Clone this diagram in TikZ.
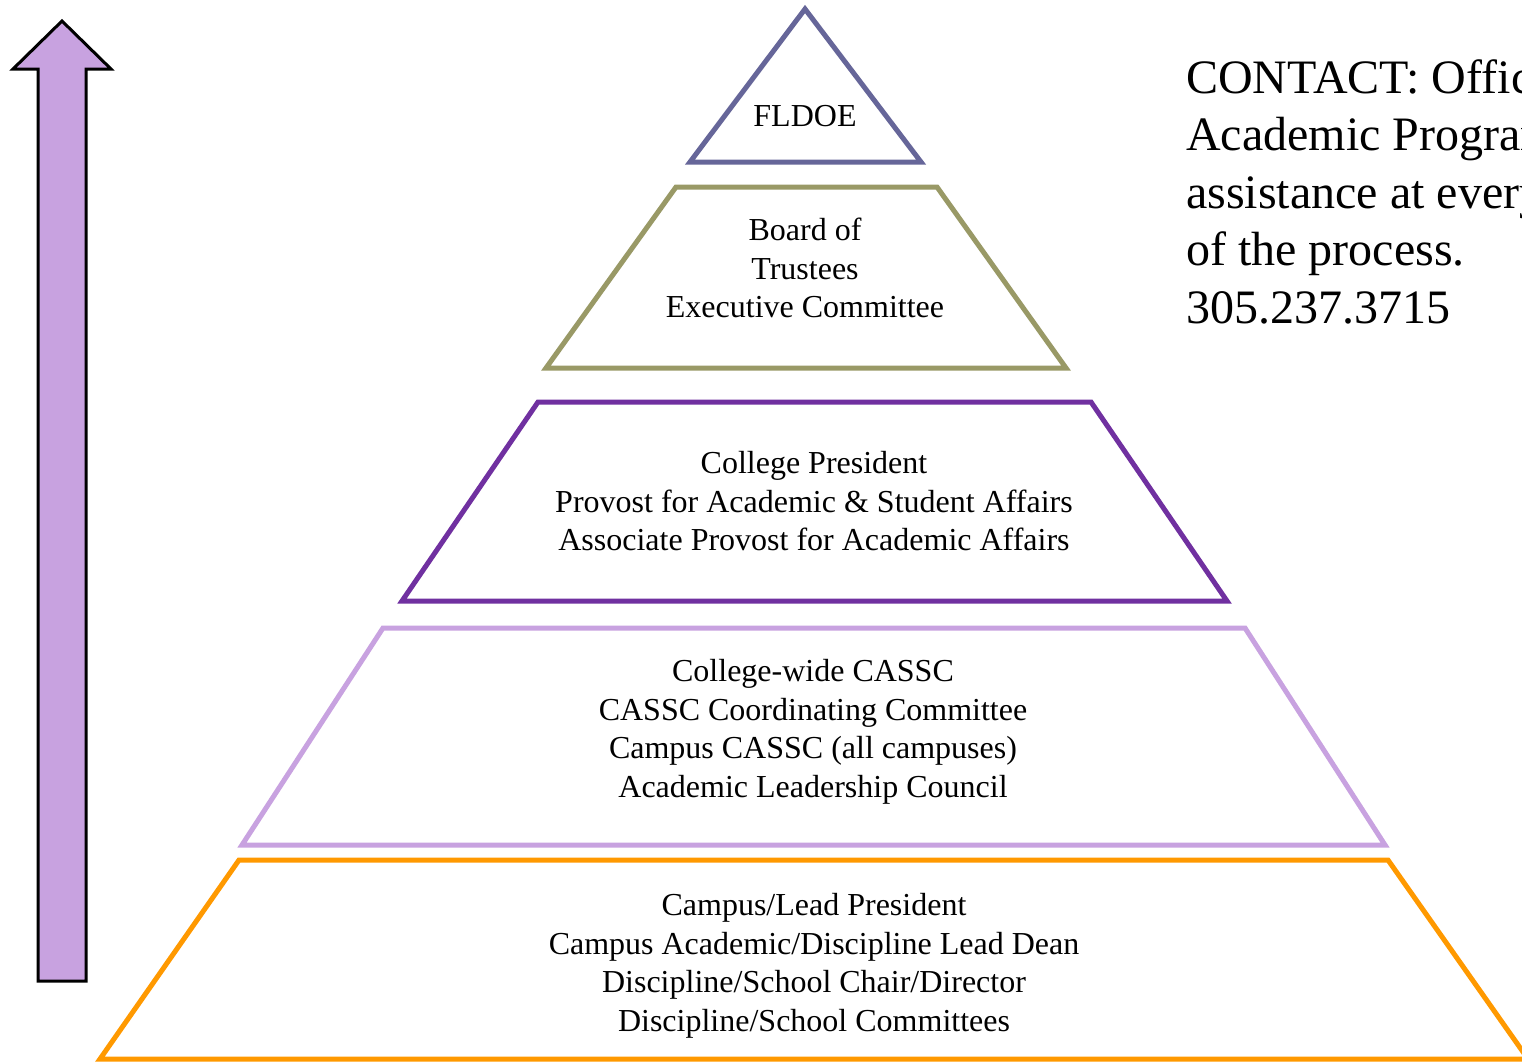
\documentclass[tikz,border=0pt]{standalone}
\usepackage{fontspec}
\setmainfont{Liberation Serif}
\definecolor{slateblue}{HTML}{666699}
\definecolor{olive}{HTML}{999966}
\definecolor{deeppurple}{HTML}{7030A0}
\definecolor{lavender}{HTML}{C8A2E0}
\definecolor{orangeline}{HTML}{FF9900}
\begin{document}
\begin{tikzpicture}[x=1pt,y=-1pt,
  tier/.style={line width=5pt, line join=miter},
  lbl/.style={inner sep=0pt, align=center, font=\fontsize{32}{38.5}\selectfont},
  contact/.style={inner sep=0pt, anchor=base west, font=\fontsize{48}{57.5}\selectfont}]
\useasboundingbox (0,0) rectangle (1522,1061);
\fill[white] (0,0) rectangle (1522,1061);
\begin{scope}
\clip (0,0) rectangle (1522,1061);
% arrow
\draw[line width=3pt, fill=lavender, line join=miter]
  (62,21) -- (111,69) -- (86,69) -- (86,981) -- (38,981) -- (38,69) -- (13,69) -- cycle;
% tiers
\draw[tier, slateblue] (805,9) -- (921,162) -- (690,162) -- cycle;
\draw[tier, olive] (676,187) -- (937,187) -- (1066,368) -- (546,368) -- cycle;
\draw[tier, deeppurple] (538,402) -- (1091,402) -- (1227,601) -- (402,601) -- cycle;
\draw[tier, lavender] (383,628) -- (1245,628) -- (1385,845) -- (242,845) -- cycle;
\draw[tier, orangeline] (239,860) -- (1388,860) -- (1528,1059) -- (100,1059) -- cycle;
% labels
\node[lbl, anchor=base] (fldoe) at (805,126) {FLDOE};
\node[lbl] (board) at (805,268) {Board of\\Trustees\\Executive Committee};
\node[lbl] (college) at (814,501.5) {College President\\Provost for Academic \& Student Affairs\\Associate Provost for Academic Affairs};
\node[lbl] (cassc) at (813,732) {College-wide CASSC\\CASSC Coordinating Committee\\Campus CASSC (all campuses)\\Academic Leadership Council};
\node[lbl] (campus) at (814,966) {Campus/Lead President\\Campus Academic/Discipline Lead Dean\\Discipline/School Chair/Director\\Discipline/School Committees};
% contact
\node[contact] (c1) at (1186,93) {CONTACT: Office of};
\node[contact] (c2) at (1186,150.5) {Academic Programs for};
\node[contact] (c3) at (1186,208) {assistance at every step};
\node[contact] (c4) at (1186,265.5) {of the process.};
\node[contact] (c5) at (1186,323) {305.237.3715};
\end{scope}
\end{tikzpicture}
\end{document}
